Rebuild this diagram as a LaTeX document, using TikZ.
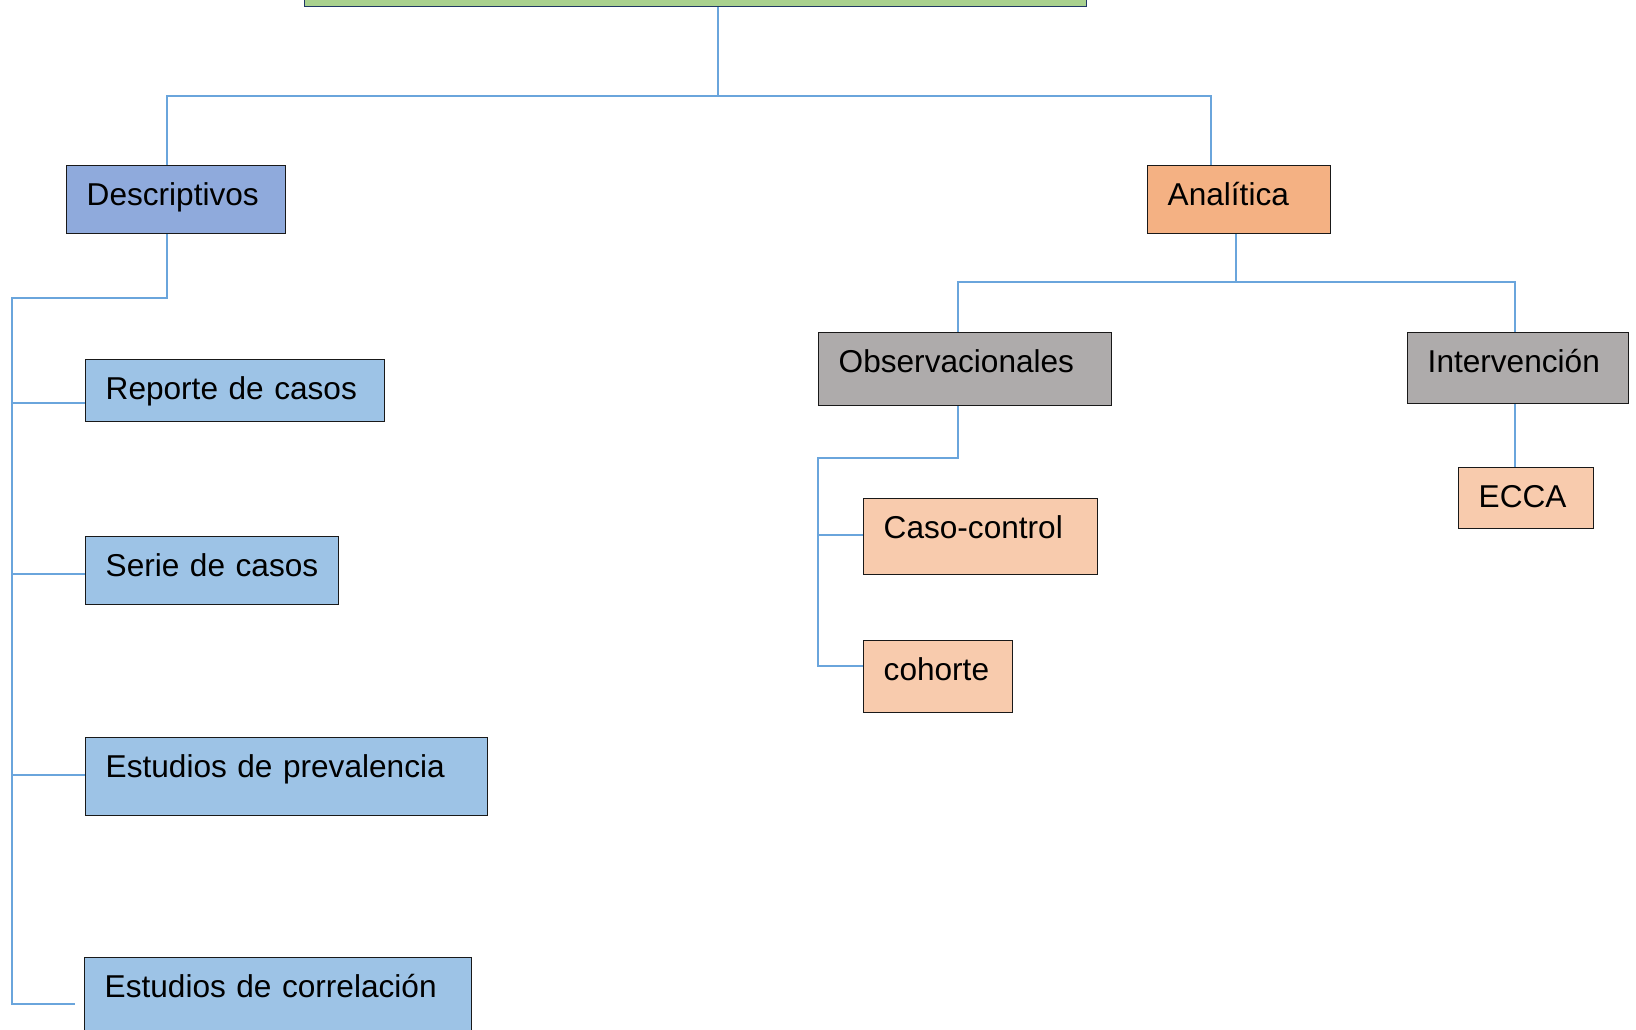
\documentclass[tikz,border=0pt]{standalone}
\usepackage{fontspec}
\setmainfont{Liberation Sans}
\definecolor{wireblue}{HTML}{6AA5DC}
\definecolor{topgreen}{HTML}{A9D18E}
\definecolor{topnavy}{HTML}{203864}
\definecolor{descblue}{HTML}{8FAADC}
\definecolor{leafblue}{HTML}{9DC3E6}
\definecolor{anaorange}{HTML}{F4B183}
\definecolor{midgray}{HTML}{AEABAB}
\definecolor{leafpeach}{HTML}{F8CBAD}
\tikzset{
  box/.style={draw=black!90, line width=1.4pt, anchor=north west, inner xsep=0pt, inner ysep=0pt,
    align=left, text height=40pt, font=\fontsize{31.6}{38}\selectfont,
    execute at begin node={\hspace*{20pt}}},
  wire/.style={draw=wireblue, line width=1.3pt},
}
\begin{document}
\begin{tikzpicture}[x=1pt,y=-1pt]
  \useasboundingbox (0,0) rectangle (1636,1029);

  % boxes
  \node[box, fill=topgreen, draw=topnavy, text width=782pt, text depth=46pt] (top) at (304,-80) {};
  \node[box, fill=descblue, text width=219pt, text depth=28pt] (desc) at (66,165) {Descriptivos};
  \node[box, fill=anaorange, text width=183pt, text depth=28pt] (ana) at (1147,165) {Analítica};
  \node[box, fill=leafblue, text width=299pt, text depth=22pt] (rep) at (85,359) {Reporte de casos};
  \node[box, fill=leafblue, text width=253pt, text depth=28pt] (serie) at (85,536) {Serie de casos};
  \node[box, fill=leafblue, text width=402pt, text depth=38pt] (prev) at (85,737) {Estudios de prevalencia};
  \node[box, fill=leafblue, text width=387pt, text depth=60pt] (corr) at (84,957) {Estudios de correlación};
  \node[box, fill=midgray, text width=293pt, text depth=33pt] (obs) at (818,332) {Observacionales};
  \node[box, fill=midgray, text width=221pt, text depth=31pt] (inter) at (1407,332) {Intervención};
  \node[box, fill=leafpeach, text width=234pt, text depth=36pt] (caso) at (863,498) {Caso-control};
  \node[box, fill=leafpeach, text width=149pt, text depth=32pt] (coh) at (863,640) {cohorte};
  \node[box, fill=leafpeach, text width=135pt, text depth=21pt] (ecca) at (1458,467) {ECCA};

  % first level
  \coordinate (hub) at (718,96);
  \coordinate (busL) at (167,96);
  \coordinate (busR) at (1211,96);
  \draw[wire] (top.south -| hub) -- (hub);
  \draw[wire] (desc.north -| busL) -- (busL) -- (busR) -- (ana.north -| busR);

  % descriptive branch
  \coordinate (dknee) at (167,298);
  \coordinate (dtrunk) at (12,298);
  \coordinate (dend) at (12,1004);
  \draw[wire] (desc.south -| dknee) -- (dknee) -- (dtrunk) -- (dend) -- ++(63,0);
  \foreach \n/\y in {rep/403, serie/574, prev/775}
    \draw[wire] (dtrunk |- 0,\y) -- (\n.west |- 0,\y);

  % analytic branch
  \coordinate (aknee) at (1236,282);
  \coordinate (busOL) at (958,282);
  \coordinate (busOR) at (1515,282);
  \draw[wire] (ana.south -| aknee) -- (aknee);
  \draw[wire] (obs.north -| busOL) -- (busOL) -- (busOR) -- (inter.north -| busOR);
  \coordinate (oknee) at (958,458);
  \coordinate (otrunk) at (818,458);
  \draw[wire] (obs.south -| oknee) -- (oknee) -- (otrunk) -- (otrunk |- 0,666) -- (coh.west |- 0,666);
  \draw[wire] (otrunk |- 0,535) -- (caso.west |- 0,535);
  \draw[wire] (inter.south -| busOR) -- (ecca.north -| busOR);
\end{tikzpicture}
\end{document}
